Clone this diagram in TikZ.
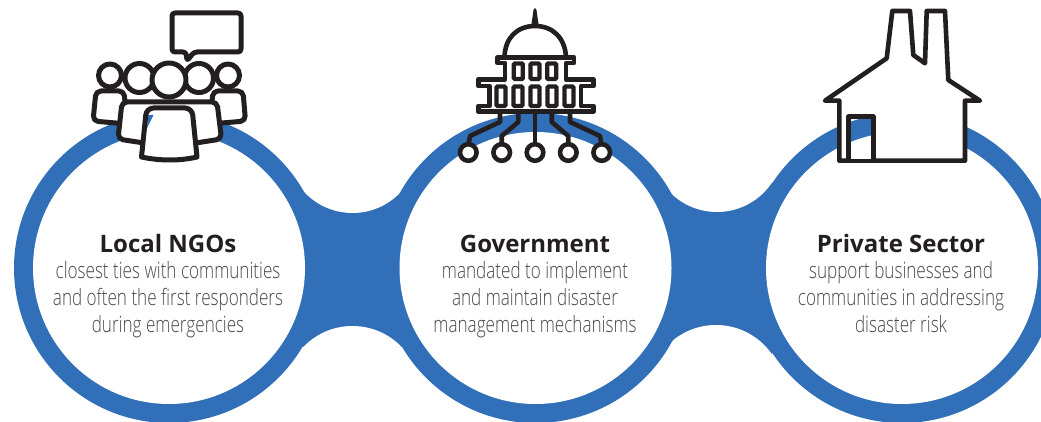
\documentclass[tikz,border=0pt]{standalone}
\usepackage{fontspec}
\setmainfont{Open Sans}
\newfontfamily\bodyfont[FakeStretch=0.76]{Open Sans Light}
\definecolor{ringblue}{HTML}{3170B9}
\definecolor{inkdark}{HTML}{231F20}
\definecolor{bodygrey}{HTML}{4A4A4C}
\tikzset{
  ring/.style={fill=ringblue,draw=none},
  hole/.style={fill=white,draw=none},
  icon/.style={draw=inkdark,line width=5pt,line join=round,line cap=round,fill=white},
  gov/.style={draw=inkdark,line width=4.6pt,line join=round,line cap=round,fill=white},
  iconline/.style={draw=inkdark,line width=4.6pt,line join=round,line cap=round},
  caption/.style={align=center,inner sep=0pt,text=bodygrey,font=\bodyfont\fontsize{22.5}{26.6}\selectfont},
  heading/.style={inner sep=0pt,text=inkdark,font=\bfseries\fontsize{24}{28}\selectfont,anchor=base},
  winbox/.style={draw=inkdark,line width=4.2pt,rounded corners=1pt,fill=white}
}
\begin{document}
\begin{tikzpicture}[x=1pt,y=-1pt]
\useasboundingbox (0,0) rectangle (1041,422);
\begin{scope}
\clip (0,0) rectangle (1041,422);
% bridges between the circles
\fill[ringblue] (303,190) rectangle (402,350);
\fill[ringblue] (670,182) rectangle (772,356);
\fill[white] (352.5,147) circle[radius=66];
\fill[white] (352.5,394) circle[radius=68];
\fill[white] (717,146) circle[radius=66];
\fill[white] (716,393) circle[radius=68];
% rings
\foreach \cx in {169,535.5,902}{
  \path[ring] (\cx,268) circle[radius=155];
  \path[hole] (\cx,268) circle[radius=136];
}
\end{scope}
% ---------- people
\draw[icon,rounded corners=3pt] (172,13) -- (241,13) -- (241,52) -- (194,52) -- (187,61) -- (186,52) -- (172,52) -- cycle;
\draw[icon,rounded corners=5pt] (93,121) -- (96,91) -- (124,91) -- (127,124) -- cycle;
\draw[icon,rounded corners=5pt] (245.5,121) -- (243,91) -- (213,91) -- (210,124) -- cycle;
\draw[icon] (110,75.5) circle[radius=11.5];
\draw[icon] (228,75.5) circle[radius=11.5];
\draw[icon,rounded corners=5pt] (118,139) -- (122,102) -- (217,102) -- (221.5,139) -- (170,147) -- cycle;
\draw[icon] (139.5,78) circle[radius=14.5];
\draw[icon] (199,78) circle[radius=14.5];
\fill[white] (147,108) -- (192,108) -- (197,157) -- (142,157) -- cycle;
\fill[ringblue] (148,115) -- (153.5,115) -- (147,128) -- cycle;
\draw[draw=inkdark,line width=5pt,line join=round,line cap=round] (141.5,157) [rounded corners=7pt] -- (146.5,108) -- (192,108) [rounded corners=0pt] -- (197,157) .. controls (180,161) and (160,161) .. (141.5,157) -- cycle;
\draw[icon] (169,80) circle[radius=17];
% ---------- government
\foreach \xa/\xb/\xc in {500/470/468.3,518.3/501.7/501.7,551.7/568.3/568.3,570/600/601.7}{
  \draw[iconline] (\xa,112) -- (\xa,122) -- (\xb,136) -- (\xc,146);
}
\draw[iconline] (535,112) -- (535,146);
\foreach \cx in {468.3,501.7,535,568.3,601.7}{
  \draw[gov] (\cx,152.5) circle[radius=8.3];
}
\fill[inkdark] (531.5,24) -- (533.6,9.5) .. controls (534.5,7.5) and (535.5,7.5) .. (536.4,9.5) -- (538.5,24) -- cycle;
\draw[gov] (504.5,57) .. controls (505,38) and (517,26) .. (535,26) .. controls (553,26) and (565,38) .. (566,57);
\draw[gov] (497.3,57.3) -- (574,57.3) -- (574,63) -- (566,63) -- (566,79.3) -- (593.3,79.3) -- (593.3,86) -- (581,86) -- (581,106) -- (593.3,106) -- (593.3,111.7) -- (478.3,111.7) -- (478.3,106) -- (489.5,106) -- (489.5,86) -- (478.3,86) -- (478.3,79.3) -- (505,79.3) -- (505,63) -- (497.3,63) -- cycle;
\foreach \cx in {518.3,535,551.7}{
  \draw[winbox] (\cx-4.5,63.5) rectangle (\cx+4.5,79);
}
\foreach \cx in {501,518,535,552,569}{
  \draw[winbox] (\cx-4.5,86.5) rectangle (\cx+4.5,106);
}
% ---------- house
\draw[gov] (825,100.7) -- (886.7,58.3) -- (892.3,11) -- (910,11) -- (913.3,55) -- (925,63.3) -- (926.7,11) -- (945,11) -- (948.3,80) -- (980,100.7) -- (965,100.7) -- (965,160.7) -- (839.3,160.7) -- (839.3,100.7) -- cycle;
\begin{scope}
\clip (848.3,116.7) rectangle (873.3,161.7);
\path[ring] (902,268) circle[radius=155];
\path[hole] (902,268) circle[radius=136];
\end{scope}
\draw[iconline] (848.3,116.7) rectangle (873.3,161);
% ---------- texts
\node[heading] (ngohead) at (168,252) {Local NGOs};
\node[caption,anchor=base] (ngotext) at (168,332) {closest ties with communities\\and often the first responders\\during emergencies};
\node[heading] (govhead) at (535,252) {Government};
\node[caption,anchor=base] (govtext) at (535,332) {mandated to implement\\and maintain disaster\\management mechanisms};
\node[heading] (pvthead) at (901,252) {Private Sector};
\node[caption,anchor=base] (pvttext) at (901,332) {support businesses and\\communities in addressing\\disaster risk};
\end{tikzpicture}
\end{document}
